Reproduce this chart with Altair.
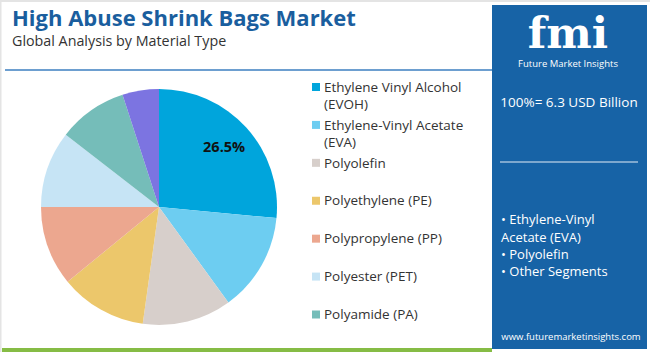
import altair as alt
import pandas as pd

# ---- data ----
categories = [
    "Ethylene Vinyl Alcohol (EVOH)",
    "Ethylene-Vinyl Acetate (EVA)",
    "Polyolefin",
    "Polyethylene (PE)",
    "Polypropylene (PP)",
    "Polyester (PET)",
    "Polyamide (PA)",
    "Others",
]
shares = [26.5, 13.5, 12.2, 11.9, 10.9, 10.5, 9.5, 5.0]
legend_labels = [
    "Ethylene Vinyl Alcohol\n(EVOH)",
    "Ethylene-Vinyl Acetate\n(EVA)",
    "Polyolefin",
    "Polyethylene (PE)",
    "Polypropylene (PP)",
    "Polyester (PET)",
    "Polyamide (PA)",
    "",
]
in_legend = [True, True, True, True, True, True, True, False]
colors = ["#00a5dc", "#6dcdf1", "#d7cfcb", "#ecc76b", "#eca78f", "#c6e4f5", "#75bdb9", "#7c74e1"]

title_text = "High Abuse Shrink Bags Market"
subtitle_text = "Global Analysis by Material Type"
total_text = "100%= 6.3 USD Billion"
bullet_lines = ["• Ethylene-Vinyl", "Acetate (EVA)", "• Polyolefin", "• Other Segments"]
site_text = "www.futuremarketinsights.com"

FONT = "Open Sans"

df = pd.DataFrame({
    "idx": list(range(len(categories))),
    "category": categories,
    "share": shares,
    "legend_label": legend_labels,
    "in_legend": in_legend,
})
one = pd.DataFrame({"k": [0]})

color = alt.Color("category:N", scale=alt.Scale(domain=categories, range=colors), legend=None)

# ---- decorations ----
def rect(x1, x2, y1, y2, fill, opacity=1.0):
    return alt.Chart(one).mark_rect(color=fill, opacity=opacity).encode(
        x=alt.value(x1), x2=alt.value(x2), y=alt.value(y1), y2=alt.value(y2))

def rule(x1, x2, y1, stroke, width=1.0, opacity=1.0):
    return alt.Chart(one).mark_rule(color=stroke, strokeWidth=width, opacity=opacity).encode(
        x=alt.value(x1), x2=alt.value(x2), y=alt.value(y1))

def text(t, x, y, size, col, weight="normal", align="left", font=FONT, baseline="middle"):
    return alt.Chart(one).mark_text(
        text=t, fontSize=size, color=col, fontWeight=weight, align=align,
        baseline=baseline, font=font).encode(x=alt.value(x), y=alt.value(y))

border_top = rect(0, 650, 0, 2, "#e4e4e4")
border_left = rect(0, 1.5, 0, 352, "#e4e4e4")
green_bar = rect(2, 492, 348, 352, "#86bc45")
sep_line = rule(5, 492, 70, "#3d7fc0", 1.5)
panel = rect(492, 647, 5, 349, "#1763a6")

title = text(title_text, 12, 26, 22, "#1a5e9e", weight="bold", baseline="alphabetic")
subtitle = text(subtitle_text, 12, 46, 14.3, "#333333", baseline="alphabetic")

logo = text("fmi", 568, 48, 43, "#ffffff", weight="bold", align="center",
            font="DejaVu Serif", baseline="alphabetic")
logo_sub = text("Future Market Insights", 568, 64, 9.5, "#ffffff", align="center")
total = text(total_text, 569, 103, 13.5, "#ffffff", align="center")
panel_rule = rule(500, 638, 162, "#ffffff", 1.5, 0.6)
bullets = [text(t, 501, y, 13, "#ffffff") for t, y in zip(bullet_lines, [220, 238, 255, 272])]
site = text(site_text, 571, 337, 9.5, "#ffffff", align="center")

# ---- pie ----
pie = alt.Chart(df).mark_arc(outerRadius=118).encode(
    theta=alt.Theta("share:Q", stack=True),
    color=color,
    order=alt.Order("idx:Q"),
    x=alt.value(159),
    y=alt.value(207),
)
pie_label = alt.Chart(df).transform_calculate(
    label="datum.idx == 0 ? format(datum.share, '.1f') + '%' : ''"
).mark_text(radius=88, fontSize=14.5, fontWeight="bold", color="#111111", font=FONT).encode(
    theta=alt.Theta("share:Q", stack=True),
    order=alt.Order("idx:Q"),
    text=alt.Text("label:N"),
    x=alt.value(159),
    y=alt.value(207),
)

# ---- legend ----
leg_y = alt.Y("category:N", axis=None,
              scale=alt.Scale(type="point", domain=categories[:7], range=[87, 314.5], padding=0))
leg_base = alt.Chart(df).transform_filter("datum.in_legend")
leg_sq = leg_base.mark_square(size=64, opacity=1).encode(
    x=alt.value(316), y=leg_y, color=color)
leg_txt = leg_base.mark_text(
    align="left", baseline="alphabetic", dy=4.7, fontSize=13.5, lineBreak="\n",
    lineHeight=17.6, color="#333333", font=FONT,
).encode(x=alt.value(324), y=leg_y, text="legend_label:N")

chart = alt.layer(
    border_top, border_left, green_bar, sep_line, panel,
    title, subtitle, logo, logo_sub, total, panel_rule, *bullets, site,
    pie, pie_label, leg_sq, leg_txt,
).properties(
    width=650, height=352, background="white", padding=0, autosize="none"
).configure_view(stroke=None)

chart.save("out.html", embed_options={"renderer": "svg", "actions": False})
